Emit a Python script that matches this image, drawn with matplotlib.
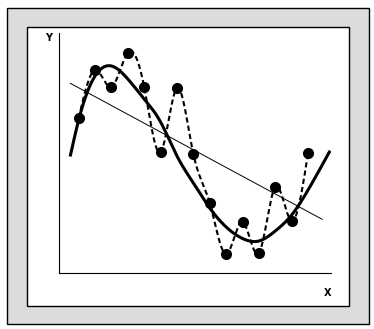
import numpy as np
import matplotlib
matplotlib.use("Agg")
import matplotlib.pyplot as plt
from matplotlib.patches import Rectangle

# sample points
xs = np.arange(1, 16)
ys = np.array([15.5, 20.3, 18.6, 22.0, 18.6, 12.1, 18.5, 11.9,
               7.0, 1.9, 5.1, 2.0, 8.6, 5.2, 12.0])

# smooth trend curve (thick line)
trend_x = np.array([0.5, 1, 2, 3, 4, 5, 6, 7, 8, 9, 10, 11, 12, 13, 14, 15, 16.3])
trend_y = np.array([11.8, 15.3, 19.7, 20.7, 19.4, 17.4, 15.1, 11.7, 9.0,
                    6.5, 4.6, 3.45, 3.2, 4.2, 5.8, 8.3, 12.1])

# straight trend line (thin line)
line_x = np.array([0.49, 15.86])
line_y = np.array([18.97, 5.37])


def natural_spline(x, y, xn):
    n = len(x)
    h = np.diff(x)
    A = np.zeros((n, n))
    b = np.zeros(n)
    A[0, 0] = A[-1, -1] = 1
    for i in range(1, n - 1):
        A[i, i - 1] = h[i - 1]
        A[i, i] = 2 * (h[i - 1] + h[i])
        A[i, i + 1] = h[i]
        b[i] = 3 * ((y[i + 1] - y[i]) / h[i] - (y[i] - y[i - 1]) / h[i - 1])
    c = np.linalg.solve(A, b)
    idx = np.clip(np.searchsorted(x, xn) - 1, 0, n - 2)
    bb = (y[1:] - y[:-1]) / h - h * (2 * c[:-1] + c[1:]) / 3
    d = (c[1:] - c[:-1]) / (3 * h)
    t = xn - x[idx]
    return y[idx] + bb[idx] * t + c[idx] * t ** 2 + d[idx] * t ** 3


W, H = 374, 329
fig = plt.figure(figsize=(W / 100, H / 100), dpi=100)
fig.patch.set_facecolor("white")

# outer gray frame and inner white panel (pixel coords)
def px_rect(x0, y0, x1, y1, fc, lw):
    fig.patches.append(Rectangle((x0 / W, 1 - y1 / H), (x1 - x0) / W, (y1 - y0) / H,
                                 transform=fig.transFigure, facecolor=fc,
                                 edgecolor="black", linewidth=lw, zorder=-2))

px_rect(7, 8, 369, 324, "#dcdcdc", 1.0)
px_rect(27, 27, 349, 306, "white", 1.0)

ax = fig.add_axes([59 / W, 1 - 273 / H, (331 - 59) / W, (273 - 33) / H])
ax.set_zorder(2)
ax.set_facecolor("none")
for s in ["top", "right"]:
    ax.spines[s].set_visible(False)
for s in ["left", "bottom"]:
    ax.spines[s].set_linewidth(0.8)
ax.set_xticks([])
ax.set_yticks([])
ax.set_xlim(-0.2, 16.4)
ax.set_ylim(0, 24)

xd = np.linspace(xs[0], xs[-1], 400)
ax.plot(xd, natural_spline(xs.astype(float), ys, xd), color="black",
        lw=1.5, ls=(0, (2.5, 1.5)))

xf = np.linspace(trend_x[0], trend_x[-1], 300)
ax.plot(xf, natural_spline(trend_x, trend_y, xf), color="black", lw=2.2)

ax.plot(line_x, line_y, color="black", lw=0.7)

ax.plot(xs, ys, "o", color="black", ms=7)

fig.text(49 / W, 1 - 38 / H, "Y", fontsize=7, fontweight="bold", ha="center", va="center")
fig.text(328 / W, 1 - 293 / H, "X", fontsize=7, fontweight="bold", ha="center", va="center")

fig.savefig("out.png", dpi=100)
